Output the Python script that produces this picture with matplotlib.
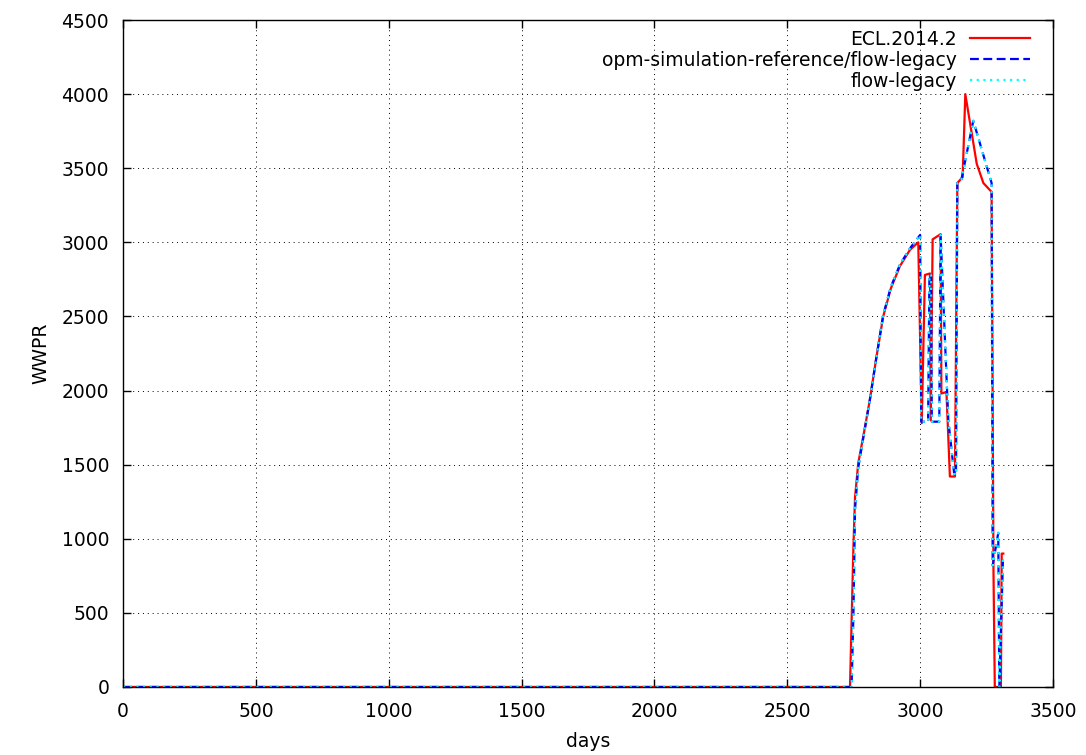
import matplotlib
matplotlib.use("Agg")
import matplotlib.pyplot as plt

# ECL.2014.2
ecl_days = [0, 2736, 2749, 2755, 2767, 2786, 2811, 2835, 2861, 2890, 2924, 2962, 2993,
            3006, 3018, 3037, 3040, 3047, 3077, 3080, 3099, 3112, 3131, 3140, 3160,
            3170, 3213, 3238, 3269, 3276, 3281, 3304, 3307, 3313]
ecl_wwpr = [0, 0, 950, 1280, 1510, 1690, 1940, 2220, 2500, 2690, 2840, 2950, 3000,
            1780, 2780, 2790, 1800, 3020, 3055, 1980, 1990, 1420, 1420, 3400, 3440,
            4000, 3530, 3400, 3340, 790, 0, 0, 900, 900]

# opm-simulation-reference/flow-legacy
ref_days = [0, 2742, 2749, 2755, 2767, 2786, 2811, 2835, 2861, 2890, 2924, 2962, 3000,
            3004, 3030, 3035, 3041, 3044, 3072, 3077, 3106, 3128, 3135, 3140, 3155,
            3200, 3269, 3273, 3294, 3298, 3312]
ref_wwpr = [0, 0, 500, 1200, 1480, 1680, 1940, 2220, 2510, 2700, 2850, 2960, 3050,
            1790, 1790, 2780, 2780, 1790, 1790, 3050, 1800, 1440, 1430, 3400, 3420,
            3820, 3400, 820, 1040, 0, 880]

# flow-legacy
flow_days = list(ref_days)
flow_wwpr = list(ref_wwpr)


def main():
    plt.rcParams['font.family'] = ['DejaVu Sans']
    plt.rcParams['font.size'] = 13.5

    fig = plt.figure(figsize=(10.86, 7.55), dpi=100)
    ax = fig.add_axes([0.1133, 0.0901, 0.8563, 0.8834])

    ax.plot(ecl_days, ecl_wwpr, color='#ff0000', lw=1.6, label='ECL.2014.2')
    ax.plot(ref_days, ref_wwpr, color='#0000ff', lw=1.6, ls=(0, (4, 2)),
            label='opm-simulation-reference/flow-legacy')
    ax.plot(flow_days, flow_wwpr, color='#00ffff', lw=1.6, ls=(0, (1, 2)),
            label='flow-legacy')

    ax.set_xlim(0, 3500)
    ax.set_ylim(0, 4500)
    ax.set_xticks(range(0, 3501, 500))
    ax.set_yticks(range(0, 4501, 500))
    ax.tick_params(direction='in', top=True, right=True, length=6, width=1)
    ax.tick_params(axis='x', pad=11)
    ax.tick_params(axis='y', pad=10)
    ax.grid(True, color='black', lw=0.7, ls=(0, (1, 4)))
    for s in ax.spines.values():
        s.set_linewidth(1)

    ax.set_xlabel('days', labelpad=8)
    ax.set_ylabel('WWPR', labelpad=8)

    leg = ax.legend(loc='upper right', bbox_to_anchor=(0.9753, 0.985),
                    frameon=False, markerfirst=False, handlelength=3.2,
                    handletextpad=0.7, labelspacing=0.1, borderpad=0,
                    borderaxespad=0)
    for col in leg._legend_handle_box.get_children():
        col.align = 'right'

    fig.savefig('out.png', dpi=100)


if __name__ == "__main__":
    main()
